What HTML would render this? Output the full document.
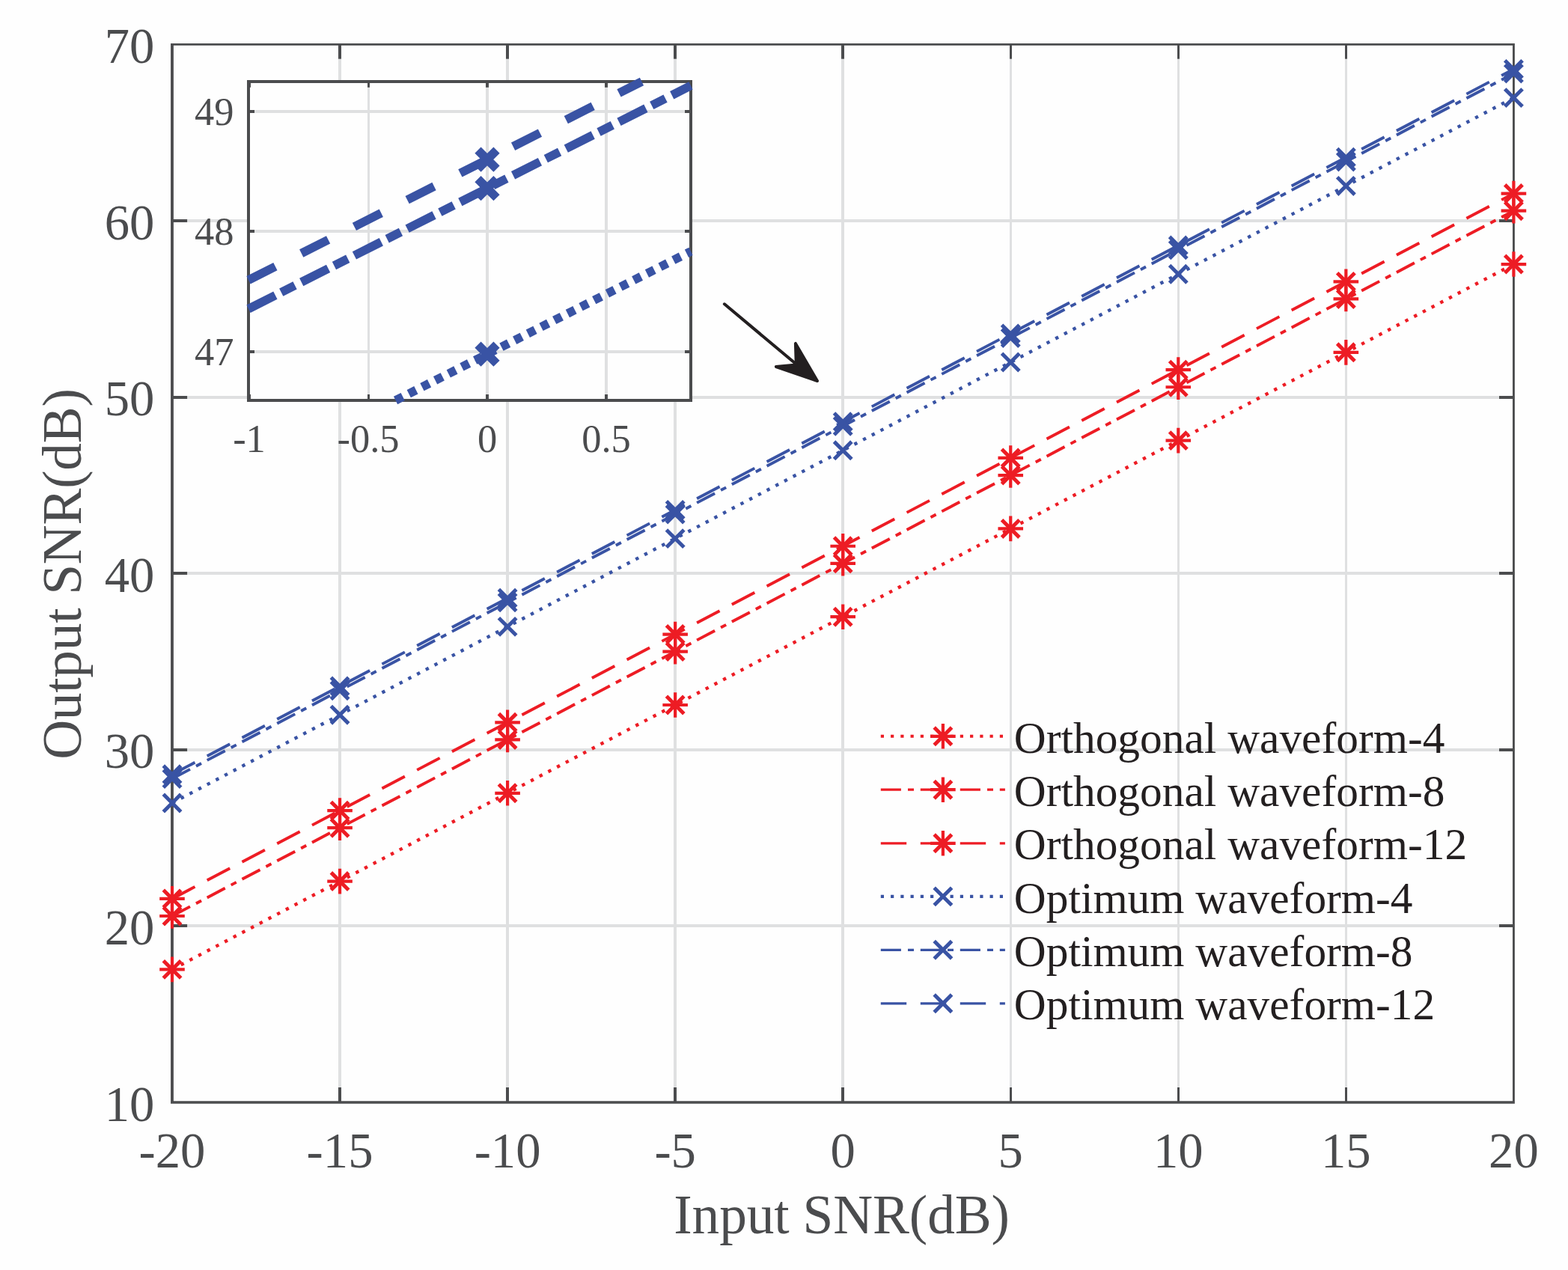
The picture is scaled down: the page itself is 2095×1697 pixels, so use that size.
<!DOCTYPE html>
<html lang="en"><head><meta charset="utf-8"><title>Output SNR versus Input SNR</title>
<style>html,body{margin:0;padding:0;background:#fefefe;}body{width:2095px;height:1697px;}svg{display:block;}text{font-family:'Liberation Serif', 'DejaVu Serif', serif;}</style>
</head><body>
<svg width="2095" height="1697" viewBox="0 0 2095 1697" role="img" aria-label="Output SNR versus input SNR for orthogonal and optimum waveforms">
<rect x="0" y="0" width="2095" height="1697" fill="#fefefe"/>
<g id="main-grid">
<rect x="452" y="59.5" width="4" height="1413.5" fill="#dfe0e1"/>
<rect x="676" y="59.5" width="4" height="1413.5" fill="#dfe0e1"/>
<rect x="900" y="59.5" width="4" height="1413.5" fill="#dfe0e1"/>
<rect x="1124" y="59.5" width="4" height="1413.5" fill="#dfe0e1"/>
<rect x="1349" y="59.5" width="3" height="1413.5" fill="#dfe0e1"/>
<rect x="1573" y="59.5" width="3" height="1413.5" fill="#dfe0e1"/>
<rect x="1797" y="59.5" width="3" height="1413.5" fill="#dfe0e1"/>
<rect x="230" y="293" width="1792.4" height="4" fill="#dfe0e1"/>
<rect x="230" y="529" width="1792.4" height="4" fill="#dfe0e1"/>
<rect x="230" y="764" width="1792.4" height="4" fill="#dfe0e1"/>
<rect x="230" y="1000" width="1792.4" height="4" fill="#dfe0e1"/>
<rect x="230" y="1235" width="1792.4" height="4" fill="#dfe0e1"/>
</g>
<g id="main-axes">
<rect x="452" y="1453" width="4" height="20" fill="#4b4c4e"/>
<rect x="452" y="59.4" width="4" height="19.3" fill="#4b4c4e"/>
<rect x="676" y="1453" width="4" height="20" fill="#4b4c4e"/>
<rect x="676" y="59.4" width="4" height="19.3" fill="#4b4c4e"/>
<rect x="900" y="1453" width="4" height="20" fill="#4b4c4e"/>
<rect x="900" y="59.4" width="4" height="19.3" fill="#4b4c4e"/>
<rect x="1124" y="1453" width="4" height="20" fill="#4b4c4e"/>
<rect x="1124" y="59.4" width="4" height="19.3" fill="#4b4c4e"/>
<rect x="1349" y="1453" width="3" height="20" fill="#4b4c4e"/>
<rect x="1349" y="59.4" width="3" height="19.3" fill="#4b4c4e"/>
<rect x="1573" y="1453" width="3" height="20" fill="#4b4c4e"/>
<rect x="1573" y="59.4" width="3" height="19.3" fill="#4b4c4e"/>
<rect x="1797" y="1453" width="3" height="20" fill="#4b4c4e"/>
<rect x="1797" y="59.4" width="3" height="19.3" fill="#4b4c4e"/>
<rect x="230" y="293" width="20.1" height="4" fill="#4b4c4e"/>
<rect x="2003" y="293" width="19.4" height="4" fill="#4b4c4e"/>
<rect x="230" y="529" width="20.1" height="4" fill="#4b4c4e"/>
<rect x="2003" y="529" width="19.4" height="4" fill="#4b4c4e"/>
<rect x="230" y="764" width="20.1" height="4" fill="#4b4c4e"/>
<rect x="2003" y="764" width="19.4" height="4" fill="#4b4c4e"/>
<rect x="230" y="1000" width="20.1" height="4" fill="#4b4c4e"/>
<rect x="2003" y="1000" width="19.4" height="4" fill="#4b4c4e"/>
<rect x="230" y="1235" width="20.1" height="4" fill="#4b4c4e"/>
<rect x="2003" y="1235" width="19.4" height="4" fill="#4b4c4e"/>
<path d="M228.07 58.04H2023.87V1474.8H228.07ZM231.9 60.76V1471.17H2021V60.76Z" fill="#4b4c4e" fill-rule="evenodd"/>
</g>
<g id="main-ticklabels">
<text x="230" y="1560" font-size="66.67" fill="#4b4c4e" text-anchor="middle">-20</text>
<text x="454.05" y="1560" font-size="66.67" fill="#4b4c4e" text-anchor="middle">-15</text>
<text x="678.1" y="1560" font-size="66.67" fill="#4b4c4e" text-anchor="middle">-10</text>
<text x="902.15" y="1560" font-size="66.67" fill="#4b4c4e" text-anchor="middle">-5</text>
<text x="1126.2" y="1560" font-size="66.67" fill="#4b4c4e" text-anchor="middle">0</text>
<text x="1350.25" y="1560" font-size="66.67" fill="#4b4c4e" text-anchor="middle">5</text>
<text x="1574.3" y="1560" font-size="66.67" fill="#4b4c4e" text-anchor="middle">10</text>
<text x="1798.35" y="1560" font-size="66.67" fill="#4b4c4e" text-anchor="middle">15</text>
<text x="2022.4" y="1560" font-size="66.67" fill="#4b4c4e" text-anchor="middle">20</text>
<text x="206.3" y="1497.5" font-size="66.67" fill="#4b4c4e" text-anchor="end">10</text>
<text x="206.3" y="1261.92" font-size="66.67" fill="#4b4c4e" text-anchor="end">20</text>
<text x="206.3" y="1026.33" font-size="66.67" fill="#4b4c4e" text-anchor="end">30</text>
<text x="206.3" y="790.75" font-size="66.67" fill="#4b4c4e" text-anchor="end">40</text>
<text x="206.3" y="555.17" font-size="66.67" fill="#4b4c4e" text-anchor="end">50</text>
<text x="206.3" y="319.58" font-size="66.67" fill="#4b4c4e" text-anchor="end">60</text>
<text x="206.3" y="84" font-size="66.67" fill="#4b4c4e" text-anchor="end">70</text>
</g>
<g id="axis-labels">
<text x="1124.6" y="1648.3" font-size="73.33" fill="#4b4c4e" text-anchor="middle" textLength="448.5" lengthAdjust="spacing">Input SNR(dB)</text>
<text transform="translate(107.6 767) rotate(-90)" font-size="73.33" fill="#4b4c4e" text-anchor="middle" textLength="495.7" lengthAdjust="spacing">Output SNR(dB)</text>
</g>
<g id="main-lines" fill="none">
<line x1="230" y1="1295.37" x2="2022.4" y2="353.04" stroke="#ed1c24" stroke-width="4.4" stroke-dasharray="4.4 8.8015"/>
<line x1="230" y1="1223.99" x2="2022.4" y2="281.66" stroke="#ed1c24" stroke-width="3.9" stroke-dasharray="27.1 9 8 8.706"/>
<line x1="230" y1="1200.9" x2="2022.4" y2="258.57" stroke="#ed1c24" stroke-width="3.9" stroke-dasharray="34.4 18.406"/>
<line x1="230" y1="1072.98" x2="2022.4" y2="130.65" stroke="#3953a4" stroke-width="4.4" stroke-dasharray="4.4 8.8015"/>
<line x1="230" y1="1040.47" x2="2022.4" y2="98.14" stroke="#3953a4" stroke-width="3.9" stroke-dasharray="27.1 9 8 8.706"/>
<line x1="230" y1="1034.82" x2="2022.4" y2="92.48" stroke="#3953a4" stroke-width="3.9" stroke-dasharray="34.4 18.406"/>
</g>
<g id="main-markers">
<path d="M213.2 1295.37H246.8M230 1278.57V1312.17" stroke="#ed1c24" stroke-width="4.2" fill="none"/>
<path d="M218.3 1283.67L241.7 1307.07M218.3 1307.07L241.7 1283.67" stroke="#ed1c24" stroke-width="5" fill="none"/>
<path d="M437.25 1177.58H470.85M454.05 1160.78V1194.38" stroke="#ed1c24" stroke-width="4.2" fill="none"/>
<path d="M442.35 1165.88L465.75 1189.28M442.35 1189.28L465.75 1165.88" stroke="#ed1c24" stroke-width="5" fill="none"/>
<path d="M661.3 1059.79H694.9M678.1 1042.99V1076.59" stroke="#ed1c24" stroke-width="4.2" fill="none"/>
<path d="M666.4 1048.09L689.8 1071.49M666.4 1071.49L689.8 1048.09" stroke="#ed1c24" stroke-width="5" fill="none"/>
<path d="M885.35 942H918.95M902.15 925.2V958.8" stroke="#ed1c24" stroke-width="4.2" fill="none"/>
<path d="M890.45 930.3L913.85 953.7M890.45 953.7L913.85 930.3" stroke="#ed1c24" stroke-width="5" fill="none"/>
<path d="M1109.4 824.2H1143M1126.2 807.4V841" stroke="#ed1c24" stroke-width="4.2" fill="none"/>
<path d="M1114.5 812.5L1137.9 835.9M1114.5 835.9L1137.9 812.5" stroke="#ed1c24" stroke-width="5" fill="none"/>
<path d="M1333.45 706.41H1367.05M1350.25 689.61V723.21" stroke="#ed1c24" stroke-width="4.2" fill="none"/>
<path d="M1338.55 694.71L1361.95 718.11M1338.55 718.11L1361.95 694.71" stroke="#ed1c24" stroke-width="5" fill="none"/>
<path d="M1557.5 588.62H1591.1M1574.3 571.82V605.42" stroke="#ed1c24" stroke-width="4.2" fill="none"/>
<path d="M1562.6 576.92L1586 600.32M1562.6 600.32L1586 576.92" stroke="#ed1c24" stroke-width="5" fill="none"/>
<path d="M1781.55 470.83H1815.15M1798.35 454.03V487.63" stroke="#ed1c24" stroke-width="4.2" fill="none"/>
<path d="M1786.65 459.13L1810.05 482.53M1786.65 482.53L1810.05 459.13" stroke="#ed1c24" stroke-width="5" fill="none"/>
<path d="M2005.6 353.04H2039.2M2022.4 336.24V369.84" stroke="#ed1c24" stroke-width="4.2" fill="none"/>
<path d="M2010.7 341.34L2034.1 364.74M2010.7 364.74L2034.1 341.34" stroke="#ed1c24" stroke-width="5" fill="none"/>
<path d="M213.2 1223.99H246.8M230 1207.19V1240.79" stroke="#ed1c24" stroke-width="4.2" fill="none"/>
<path d="M218.3 1212.29L241.7 1235.69M218.3 1235.69L241.7 1212.29" stroke="#ed1c24" stroke-width="5" fill="none"/>
<path d="M437.25 1106.2H470.85M454.05 1089.4V1123" stroke="#ed1c24" stroke-width="4.2" fill="none"/>
<path d="M442.35 1094.5L465.75 1117.9M442.35 1117.9L465.75 1094.5" stroke="#ed1c24" stroke-width="5" fill="none"/>
<path d="M661.3 988.41H694.9M678.1 971.61V1005.21" stroke="#ed1c24" stroke-width="4.2" fill="none"/>
<path d="M666.4 976.71L689.8 1000.11M666.4 1000.11L689.8 976.71" stroke="#ed1c24" stroke-width="5" fill="none"/>
<path d="M885.35 870.61H918.95M902.15 853.81V887.41" stroke="#ed1c24" stroke-width="4.2" fill="none"/>
<path d="M890.45 858.91L913.85 882.31M890.45 882.31L913.85 858.91" stroke="#ed1c24" stroke-width="5" fill="none"/>
<path d="M1109.4 752.82H1143M1126.2 736.02V769.62" stroke="#ed1c24" stroke-width="4.2" fill="none"/>
<path d="M1114.5 741.12L1137.9 764.52M1114.5 764.52L1137.9 741.12" stroke="#ed1c24" stroke-width="5" fill="none"/>
<path d="M1333.45 635.03H1367.05M1350.25 618.23V651.83" stroke="#ed1c24" stroke-width="4.2" fill="none"/>
<path d="M1338.55 623.33L1361.95 646.73M1338.55 646.73L1361.95 623.33" stroke="#ed1c24" stroke-width="5" fill="none"/>
<path d="M1557.5 517.24H1591.1M1574.3 500.44V534.04" stroke="#ed1c24" stroke-width="4.2" fill="none"/>
<path d="M1562.6 505.54L1586 528.94M1562.6 528.94L1586 505.54" stroke="#ed1c24" stroke-width="5" fill="none"/>
<path d="M1781.55 399.45H1815.15M1798.35 382.65V416.25" stroke="#ed1c24" stroke-width="4.2" fill="none"/>
<path d="M1786.65 387.75L1810.05 411.15M1786.65 411.15L1810.05 387.75" stroke="#ed1c24" stroke-width="5" fill="none"/>
<path d="M2005.6 281.66H2039.2M2022.4 264.86V298.46" stroke="#ed1c24" stroke-width="4.2" fill="none"/>
<path d="M2010.7 269.96L2034.1 293.36M2010.7 293.36L2034.1 269.96" stroke="#ed1c24" stroke-width="5" fill="none"/>
<path d="M213.2 1200.9H246.8M230 1184.1V1217.7" stroke="#ed1c24" stroke-width="4.2" fill="none"/>
<path d="M218.3 1189.2L241.7 1212.6M218.3 1212.6L241.7 1189.2" stroke="#ed1c24" stroke-width="5" fill="none"/>
<path d="M437.25 1083.11H470.85M454.05 1066.31V1099.91" stroke="#ed1c24" stroke-width="4.2" fill="none"/>
<path d="M442.35 1071.41L465.75 1094.81M442.35 1094.81L465.75 1071.41" stroke="#ed1c24" stroke-width="5" fill="none"/>
<path d="M661.3 965.32H694.9M678.1 948.52V982.12" stroke="#ed1c24" stroke-width="4.2" fill="none"/>
<path d="M666.4 953.62L689.8 977.02M666.4 977.02L689.8 953.62" stroke="#ed1c24" stroke-width="5" fill="none"/>
<path d="M885.35 847.53H918.95M902.15 830.73V864.33" stroke="#ed1c24" stroke-width="4.2" fill="none"/>
<path d="M890.45 835.83L913.85 859.23M890.45 859.23L913.85 835.83" stroke="#ed1c24" stroke-width="5" fill="none"/>
<path d="M1109.4 729.73H1143M1126.2 712.93V746.53" stroke="#ed1c24" stroke-width="4.2" fill="none"/>
<path d="M1114.5 718.03L1137.9 741.43M1114.5 741.43L1137.9 718.03" stroke="#ed1c24" stroke-width="5" fill="none"/>
<path d="M1333.45 611.94H1367.05M1350.25 595.14V628.74" stroke="#ed1c24" stroke-width="4.2" fill="none"/>
<path d="M1338.55 600.24L1361.95 623.64M1338.55 623.64L1361.95 600.24" stroke="#ed1c24" stroke-width="5" fill="none"/>
<path d="M1557.5 494.15H1591.1M1574.3 477.35V510.95" stroke="#ed1c24" stroke-width="4.2" fill="none"/>
<path d="M1562.6 482.45L1586 505.85M1562.6 505.85L1586 482.45" stroke="#ed1c24" stroke-width="5" fill="none"/>
<path d="M1781.55 376.36H1815.15M1798.35 359.56V393.16" stroke="#ed1c24" stroke-width="4.2" fill="none"/>
<path d="M1786.65 364.66L1810.05 388.06M1786.65 388.06L1810.05 364.66" stroke="#ed1c24" stroke-width="5" fill="none"/>
<path d="M2005.6 258.57H2039.2M2022.4 241.77V275.37" stroke="#ed1c24" stroke-width="4.2" fill="none"/>
<path d="M2010.7 246.87L2034.1 270.27M2010.7 270.27L2034.1 246.87" stroke="#ed1c24" stroke-width="5" fill="none"/>
<path d="M218.3 1061.28L241.7 1084.68M218.3 1084.68L241.7 1061.28" stroke="#3953a4" stroke-width="5" fill="none"/>
<path d="M442.35 943.49L465.75 966.89M442.35 966.89L465.75 943.49" stroke="#3953a4" stroke-width="5" fill="none"/>
<path d="M666.4 825.7L689.8 849.1M666.4 849.1L689.8 825.7" stroke="#3953a4" stroke-width="5" fill="none"/>
<path d="M890.45 707.9L913.85 731.3M890.45 731.3L913.85 707.9" stroke="#3953a4" stroke-width="5" fill="none"/>
<path d="M1114.5 590.11L1137.9 613.51M1114.5 613.51L1137.9 590.11" stroke="#3953a4" stroke-width="5" fill="none"/>
<path d="M1338.55 472.32L1361.95 495.72M1338.55 495.72L1361.95 472.32" stroke="#3953a4" stroke-width="5" fill="none"/>
<path d="M1562.6 354.53L1586 377.93M1562.6 377.93L1586 354.53" stroke="#3953a4" stroke-width="5" fill="none"/>
<path d="M1786.65 236.74L1810.05 260.14M1786.65 260.14L1810.05 236.74" stroke="#3953a4" stroke-width="5" fill="none"/>
<path d="M2010.7 118.95L2034.1 142.35M2010.7 142.35L2034.1 118.95" stroke="#3953a4" stroke-width="5" fill="none"/>
<path d="M218.3 1028.77L241.7 1052.17M218.3 1052.17L241.7 1028.77" stroke="#3953a4" stroke-width="5" fill="none"/>
<path d="M442.35 910.98L465.75 934.38M442.35 934.38L465.75 910.98" stroke="#3953a4" stroke-width="5" fill="none"/>
<path d="M666.4 793.19L689.8 816.59M666.4 816.59L689.8 793.19" stroke="#3953a4" stroke-width="5" fill="none"/>
<path d="M890.45 675.39L913.85 698.79M890.45 698.79L913.85 675.39" stroke="#3953a4" stroke-width="5" fill="none"/>
<path d="M1114.5 557.6L1137.9 581M1114.5 581L1137.9 557.6" stroke="#3953a4" stroke-width="5" fill="none"/>
<path d="M1338.55 439.81L1361.95 463.21M1338.55 463.21L1361.95 439.81" stroke="#3953a4" stroke-width="5" fill="none"/>
<path d="M1562.6 322.02L1586 345.42M1562.6 345.42L1586 322.02" stroke="#3953a4" stroke-width="5" fill="none"/>
<path d="M1786.65 204.23L1810.05 227.63M1786.65 227.63L1810.05 204.23" stroke="#3953a4" stroke-width="5" fill="none"/>
<path d="M2010.7 86.44L2034.1 109.84M2010.7 109.84L2034.1 86.44" stroke="#3953a4" stroke-width="5" fill="none"/>
<path d="M218.3 1023.12L241.7 1046.52M218.3 1046.52L241.7 1023.12" stroke="#3953a4" stroke-width="5" fill="none"/>
<path d="M442.35 905.32L465.75 928.72M442.35 928.72L465.75 905.32" stroke="#3953a4" stroke-width="5" fill="none"/>
<path d="M666.4 787.53L689.8 810.93M666.4 810.93L689.8 787.53" stroke="#3953a4" stroke-width="5" fill="none"/>
<path d="M890.45 669.74L913.85 693.14M890.45 693.14L913.85 669.74" stroke="#3953a4" stroke-width="5" fill="none"/>
<path d="M1114.5 551.95L1137.9 575.35M1114.5 575.35L1137.9 551.95" stroke="#3953a4" stroke-width="5" fill="none"/>
<path d="M1338.55 434.16L1361.95 457.56M1338.55 457.56L1361.95 434.16" stroke="#3953a4" stroke-width="5" fill="none"/>
<path d="M1562.6 316.36L1586 339.76M1562.6 339.76L1586 316.36" stroke="#3953a4" stroke-width="5" fill="none"/>
<path d="M1786.65 198.57L1810.05 221.97M1786.65 221.97L1810.05 198.57" stroke="#3953a4" stroke-width="5" fill="none"/>
<path d="M2010.7 80.78L2034.1 104.18M2010.7 104.18L2034.1 80.78" stroke="#3953a4" stroke-width="5" fill="none"/>
</g>
<g id="legend">
<line x1="1176.8" y1="983.8" x2="1342.9" y2="983.8" stroke="#ed1c24" stroke-width="4.1" stroke-dasharray="4.2 9.05"/>
<path d="M1243.1 983.8H1276.7M1259.9 967V1000.6" stroke="#ed1c24" stroke-width="4.2" fill="none"/>
<path d="M1248.2 972.1L1271.6 995.5M1248.2 995.5L1271.6 972.1" stroke="#ed1c24" stroke-width="5" fill="none"/>
<text x="1354.8" y="1006" font-size="59.4" fill="#231f20" text-anchor="start">Orthogonal waveform-4</text>
<line x1="1176.8" y1="1055.2" x2="1342.9" y2="1055.2" stroke="#ed1c24" stroke-width="3.3" stroke-dasharray="27.1 9.1 8 8.8"/>
<path d="M1243.1 1055.2H1276.7M1259.9 1038.4V1072" stroke="#ed1c24" stroke-width="4.2" fill="none"/>
<path d="M1248.2 1043.5L1271.6 1066.9M1248.2 1066.9L1271.6 1043.5" stroke="#ed1c24" stroke-width="5" fill="none"/>
<text x="1354.8" y="1077" font-size="59.4" fill="#231f20" text-anchor="start">Orthogonal waveform-8</text>
<line x1="1176.8" y1="1126.8" x2="1342.9" y2="1126.8" stroke="#ed1c24" stroke-width="3.3" stroke-dasharray="34.4 18.6"/>
<path d="M1243.1 1126.8H1276.7M1259.9 1110V1143.6" stroke="#ed1c24" stroke-width="4.2" fill="none"/>
<path d="M1248.2 1115.1L1271.6 1138.5M1248.2 1138.5L1271.6 1115.1" stroke="#ed1c24" stroke-width="5" fill="none"/>
<text x="1354.8" y="1148.1" font-size="59.4" fill="#231f20" text-anchor="start">Orthogonal waveform-12</text>
<line x1="1176.8" y1="1197.9" x2="1342.9" y2="1197.9" stroke="#3953a4" stroke-width="4.1" stroke-dasharray="4.2 9.05"/>
<path d="M1248.2 1186.2L1271.6 1209.6M1248.2 1209.6L1271.6 1186.2" stroke="#3953a4" stroke-width="5" fill="none"/>
<text x="1354.8" y="1219.9" font-size="59.4" fill="#231f20" text-anchor="start">Optimum waveform-4</text>
<line x1="1176.8" y1="1269.3" x2="1342.9" y2="1269.3" stroke="#3953a4" stroke-width="3.3" stroke-dasharray="27.1 9.1 8 8.8"/>
<path d="M1248.2 1257.6L1271.6 1281M1248.2 1281L1271.6 1257.6" stroke="#3953a4" stroke-width="5" fill="none"/>
<text x="1354.8" y="1291.2" font-size="59.4" fill="#231f20" text-anchor="start">Optimum waveform-8</text>
<line x1="1176.8" y1="1340.8" x2="1342.9" y2="1340.8" stroke="#3953a4" stroke-width="3.3" stroke-dasharray="34.4 18.6"/>
<path d="M1248.2 1329.1L1271.6 1352.5M1248.2 1352.5L1271.6 1329.1" stroke="#3953a4" stroke-width="5" fill="none"/>
<text x="1354.8" y="1361.6" font-size="59.4" fill="#231f20" text-anchor="start">Optimum waveform-12</text>
</g>
<g id="inset">
<rect x="332" y="109" width="591" height="426" fill="#fefefe"/>
<rect x="491" y="109" width="3" height="426" fill="#dfe0e1"/>
<rect x="649" y="109" width="4" height="426" fill="#dfe0e1"/>
<rect x="808" y="109" width="4" height="426" fill="#dfe0e1"/>
<rect x="332" y="468" width="591" height="4" fill="#dfe0e1"/>
<rect x="332" y="307" width="591" height="4" fill="#dfe0e1"/>
<rect x="332" y="147" width="591" height="4" fill="#dfe0e1"/>
<rect x="331" y="527" width="4" height="8" fill="#4b4c4e"/>
<rect x="331" y="109" width="4" height="7.8" fill="#4b4c4e"/>
<rect x="491" y="527" width="3" height="8" fill="#4b4c4e"/>
<rect x="491" y="109" width="3" height="7.8" fill="#4b4c4e"/>
<rect x="649" y="527" width="4" height="8" fill="#4b4c4e"/>
<rect x="649" y="109" width="4" height="7.8" fill="#4b4c4e"/>
<rect x="808" y="527" width="4" height="8" fill="#4b4c4e"/>
<rect x="808" y="109" width="4" height="7.8" fill="#4b4c4e"/>
<rect x="332" y="468" width="8" height="4" fill="#4b4c4e"/>
<rect x="915" y="468" width="8" height="4" fill="#4b4c4e"/>
<rect x="332" y="307" width="8" height="4" fill="#4b4c4e"/>
<rect x="915" y="307" width="8" height="4" fill="#4b4c4e"/>
<rect x="332" y="147" width="8" height="4" fill="#4b4c4e"/>
<rect x="915" y="147" width="8" height="4" fill="#4b4c4e"/>
<path d="M330 107H925V537H330ZM334 111V533H921V111Z" fill="#4b4c4e" fill-rule="evenodd"/>
<text x="333" y="604.4" font-size="52.5" fill="#4b4c4e" text-anchor="middle">-1</text>
<text x="492" y="604.4" font-size="52.5" fill="#4b4c4e" text-anchor="middle">-0.5</text>
<text x="651" y="604.4" font-size="52.5" fill="#4b4c4e" text-anchor="middle">0</text>
<text x="810" y="604.4" font-size="52.5" fill="#4b4c4e" text-anchor="middle">0.5</text>
<text x="312.4" y="487.7" font-size="52.5" fill="#4b4c4e" text-anchor="end">47</text>
<text x="312.4" y="327.2" font-size="52.5" fill="#4b4c4e" text-anchor="end">48</text>
<text x="312.4" y="166.7" font-size="52.5" fill="#4b4c4e" text-anchor="end">49</text>
<line x1="528.57" y1="535" x2="923" y2="335.93" stroke="#3953a4" stroke-width="11.6" stroke-dasharray="10.8 9.0"/>
<line x1="332" y1="412.72" x2="923" y2="114.44" stroke="#3953a4" stroke-width="11.6" stroke-dasharray="40.2 8.8 20.5 9.71"/>
<line x1="332" y1="374.2" x2="857.45" y2="109" stroke="#3953a4" stroke-width="11.6" stroke-dasharray="40.2 39.01"/>
<path d="M638.48 460.69L663.52 485.73M638.48 485.73L663.52 460.69" stroke="#3953a4" stroke-width="11.6" fill="none"/>
<path d="M638.48 239.2L663.52 264.24M638.48 264.24L663.52 239.2" stroke="#3953a4" stroke-width="11.6" fill="none"/>
<path d="M638.48 200.68L663.52 225.72M638.48 225.72L663.52 200.68" stroke="#3953a4" stroke-width="11.6" fill="none"/>
</g>
<g id="arrow">
<line x1="967.9" y1="406.3" x2="1064" y2="486.8" stroke="#231f20" stroke-width="4.1" stroke-linecap="round"/>
<polygon points="1092,509 1062.9,458.9 1063.8,487.6 1036.9,490" fill="#231f20" stroke="#231f20" stroke-width="4" stroke-linejoin="round"/>
</g>
</svg>
</body></html>
